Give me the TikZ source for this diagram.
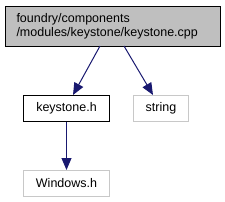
\documentclass[tikz,border=0pt]{standalone}
\usepackage{fontspec}
\setmainfont{Liberation Sans}
\usetikzlibrary{arrows.meta}
\definecolor{edgecol}{HTML}{191970}
\definecolor{grayfill}{HTML}{BFBFBF}
\definecolor{lightborder}{HTML}{C8C8C8}
\tikzset{
  x=1pt,y=-1pt,
  box/.style={draw=black, line width=1pt, inner sep=0pt, font=\fontsize{12.5}{14.5}\selectfont},
  mainbox/.style={box, fill=grayfill},
  extbox/.style={box, draw=lightborder},
  edge/.style={draw=edgecol, line width=1pt, -{Triangle[length=12pt,width=10pt]}}
}
\begin{document}
\begin{tikzpicture}
\useasboundingbox (0,0) rectangle (225,201);
\node[mainbox, minimum width=215pt, minimum height=40pt, anchor=north west, align=left, inner xsep=11pt, text width=193pt] (main) at (5,6) {foundry/components\\/modules/keystone/keystone.cpp};
\node[box, minimum width=86pt, minimum height=26pt, anchor=north west] (ks) at (23,95) {keystone.h};
\node[extbox, minimum width=55pt, minimum height=26pt, anchor=north west] (str) at (133,95) {string};
\node[extbox, minimum width=86pt, minimum height=26pt, anchor=north west] (win) at (23,170) {Windows.h};
\coordinate (m1) at (100,46);
\coordinate (m2) at (124,46);
\draw[edge] (m1) -- (ks.north -| 73,0);
\draw[edge] (m2) -- (str.north -| 153,0);
\draw[edge] (ks.south) -- (win.north);
\end{tikzpicture}
\end{document}
